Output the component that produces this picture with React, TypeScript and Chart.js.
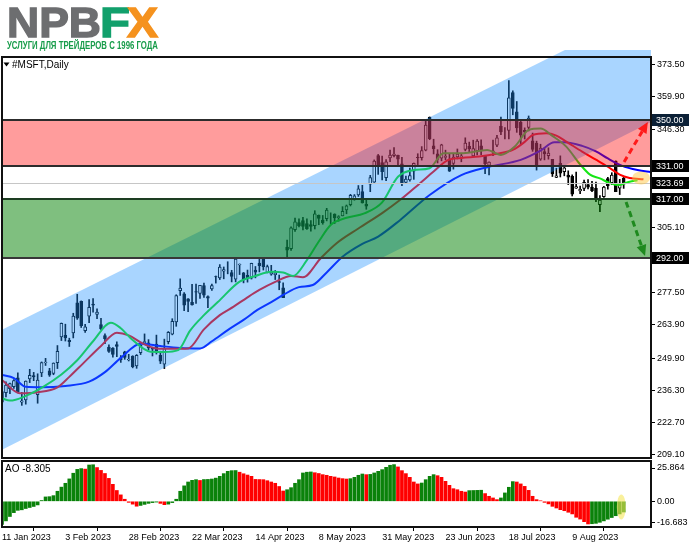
import React, { useEffect, useRef } from 'react';
import { Chart, registerables } from 'chart.js';
Chart.register(...registerables);

// ---------------- DATA ----------------
const xLabelIdx = [0, 16, 32, 48, 64, 80, 96, 112, 128, 144];
const xLabels = ['11 Jan 2023', '3 Feb 2023', '28 Feb 2023', '22 Mar 2023', '14 Apr 2023', '8 May 2023', '31 May 2023', '23 Jun 2023', '18 Jul 2023', '9 Aug 2023'];

const opens = [
  231.3, 235.3, 237.0, 237.9, 241.6, 231.3, 232.3, 241.1, 242.5, 234.5,
  243.7, 248.0, 244.5, 243.5, 248.0, 258.8, 259.5, 257.4, 260.5, 273.2,
  273.8, 261.5, 267.6, 272.7, 268.3, 264.0, 259.4, 254.5, 254.1, 255.6,
  250.0, 252.5, 249.1, 250.8, 246.6, 252.2, 256.4, 256.3, 254.0, 255.8,
  251.1, 247.4, 256.8, 260.0, 265.2, 278.3, 277.0, 274.9, 273.4, 277.9,
  277.2, 280.5, 275.8, 279.0, 284.2, 283.7, 286.5, 287.2, 285.9, 283.2,
  289.2, 285.8, 284.8, 283.6, 287.0, 289.9, 291.6, 286.0, 285.3, 285.0,
  282.1, 279.5, 296.7, 296.0, 304.0, 307.0, 307.8, 306.6, 306.2, 305.7,
  310.1, 308.0, 308.6, 310.1, 310.6, 309.1, 309.8, 312.3, 314.5, 316.7,
  318.6, 320.0, 314.7, 323.2, 324.0, 335.2, 332.3, 325.9, 334.2, 335.2,
  335.3, 331.7, 323.9, 325.0, 328.6, 334.5, 334.3, 337.5, 351.3, 339.3,
  336.0, 334.1, 334.4, 333.7, 331.9, 334.7, 334.7, 337.8, 339.2, 335.1,
  337.3, 339.3, 335.0, 331.1, 336.6, 339.6, 347.6, 345.7, 345.8, 361.8,
  353.6, 349.2, 345.9, 347.1, 341.4, 340.5, 333.7, 336.9, 335.2, 333.6,
  326.0, 331.9, 328.4, 327.0, 326.5, 321.5, 320.3, 321.4, 323.0, 322.0,
  321.4, 314.5, 317.9, 325.5, 323.8, 332.9, 321.5, 325.7,
];
const highs = [
  235.9, 239.9, 239.4, 240.9, 243.7, 235.5, 240.3, 245.2, 243.9, 243.3,
  248.3, 249.8, 245.6, 247.9, 255.2, 264.7, 264.2, 258.3, 268.8, 276.8,
  274.0, 264.1, 274.6, 275.0, 270.7, 266.7, 260.1, 255.5, 254.3, 256.8,
  251.0, 252.8, 251.5, 250.9, 251.4, 255.6, 260.1, 257.7, 254.5, 259.6,
  252.8, 257.9, 261.1, 266.5, 276.6, 283.3, 277.5, 275.0, 281.0, 281.1,
  280.6, 281.5, 276.1, 281.1, 284.5, 289.3, 288.3, 290.5, 286.9, 292.1,
  289.6, 286.0, 287.0, 289.9, 288.5, 291.6, 292.0, 289.1, 289.0, 286.8,
  284.9, 281.6, 299.6, 305.2, 308.9, 308.6, 309.2, 308.6, 307.8, 312.0,
  310.2, 310.0, 313.0, 311.1, 310.7, 309.9, 313.7, 314.4, 318.9, 318.8,
  322.6, 322.7, 316.5, 326.9, 333.4, 335.7, 335.0, 333.5, 337.5, 338.6,
  335.4, 334.5, 326.6, 330.0, 332.1, 336.0, 339.0, 349.8, 351.5, 342.1,
  337.7, 340.0, 337.5, 336.1, 336.2, 338.0, 336.1, 342.7, 340.9, 341.7,
  342.0, 341.8, 335.3, 332.6, 341.7, 343.7, 351.4, 347.0, 366.8, 362.5,
  358.0, 350.3, 346.9, 351.9, 344.7, 341.3, 340.0, 338.5, 338.5, 333.6,
  329.9, 335.1, 330.8, 328.8, 327.1, 328.3, 322.4, 324.9, 325.1, 324.4,
  324.1, 318.4, 322.3, 326.1, 328.0, 333.0, 325.2, 326.5,
];
const lows = [
  229.3, 233.6, 234.9, 237.1, 235.5, 230.0, 230.5, 239.6, 240.4, 230.9,
  242.1, 246.8, 242.2, 242.9, 245.5, 257.3, 257.1, 254.8, 258.4, 266.2,
  262.8, 260.7, 264.8, 269.3, 266.5, 261.9, 256.0, 252.3, 250.3, 250.5,
  248.1, 249.4, 248.7, 245.8, 245.6, 251.4, 255.9, 253.4, 250.8, 251.6,
  247.6, 245.5, 255.9, 259.7, 263.3, 276.3, 269.9, 269.5, 272.2, 272.9,
  275.1, 275.5, 271.1, 278.4, 281.5, 283.0, 283.3, 285.4, 282.0, 282.0,
  285.1, 281.6, 281.9, 283.2, 283.7, 286.2, 287.0, 285.8, 284.8, 283.0,
  278.7, 275.4, 292.6, 295.3, 303.3, 305.2, 303.9, 304.1, 303.4, 304.3,
  306.1, 306.3, 307.7, 306.3, 306.6, 307.6, 309.8, 310.7, 314.0, 316.4,
  318.0, 315.2, 312.6, 320.0, 323.9, 327.3, 325.0, 324.7, 332.6, 334.7,
  330.5, 322.5, 323.4, 324.4, 325.2, 331.4, 333.3, 337.2, 341.9, 335.9,
  332.1, 333.0, 333.5, 328.5, 329.5, 333.8, 332.6, 337.2, 336.6, 334.7,
  335.5, 335.6, 327.6, 327.1, 335.2, 339.0, 344.0, 342.2, 342.2, 352.4,
  345.0, 339.8, 342.2, 345.6, 337.0, 329.1, 333.2, 333.4, 333.7, 326.4,
  325.9, 326.2, 326.7, 323.0, 318.2, 321.4, 319.2, 320.4, 321.2, 320.0,
  315.8, 311.6, 317.6, 321.1, 323.0, 320.0, 318.8, 321.4,
];
const closes = [
  235.8, 238.5, 239.2, 240.4, 235.8, 231.9, 240.2, 242.6, 242.0, 240.6,
  248.0, 248.2, 242.7, 247.8, 252.8, 264.6, 258.4, 256.8, 267.6, 266.7,
  263.6, 263.1, 271.3, 272.2, 269.3, 262.2, 258.1, 252.7, 251.5, 254.8,
  249.2, 250.2, 249.4, 246.3, 251.1, 255.3, 256.9, 254.2, 253.7, 252.3,
  248.6, 253.9, 260.8, 265.4, 276.2, 279.4, 272.2, 273.8, 272.3, 277.7,
  280.6, 276.4, 275.2, 280.5, 284.1, 288.3, 287.2, 287.2, 284.3, 291.6,
  289.4, 282.8, 283.5, 289.8, 286.1, 288.8, 288.4, 288.5, 286.1, 285.8,
  281.8, 275.4, 295.4, 304.8, 307.3, 305.6, 305.4, 304.4, 305.4, 310.7,
  308.7, 307.0, 312.3, 310.1, 309.0, 309.5, 311.7, 314.0, 318.5, 318.3,
  321.2, 315.3, 313.9, 325.9, 332.9, 331.2, 328.4, 332.6, 335.4, 335.9,
  333.7, 323.4, 325.3, 326.8, 331.9, 334.3, 337.3, 348.1, 342.3, 338.1,
  333.6, 339.7, 335.0, 328.6, 334.6, 335.9, 335.1, 340.5, 338.0, 338.2,
  341.3, 337.2, 331.8, 332.5, 337.2, 342.7, 345.2, 345.7, 359.5, 355.1,
  346.9, 343.8, 345.1, 351.0, 337.8, 330.7, 338.4, 335.9, 336.3, 327.5,
  326.7, 327.8, 330.1, 326.1, 319.0, 322.2, 321.0, 324.0, 321.9, 320.4,
  316.9, 316.5, 321.9, 322.5, 327.0, 320.0, 323.0, 323.69,
];

const aoValues = [
  -18.0, -15.2, -11.8, -8.8, -7.0, -6.6, -5.6, -4.8, -4.0, -2.8,
  0.6, 3.4, 3.6, 4.4, 7.8, 11.0, 14.0, 17.4, 21.8, 24.8,
  25.4, 25.0, 28.2, 28.4, 26.2, 24.0, 21.6, 17.8, 13.2, 8.4,
  5.0, 1.6, -0.8, -2.2, -3.8, -3.2, -2.4, -1.6, -1.0, -0.6,
  -1.6, -2.6, -2.2, -1.0, 1.6, 7.8, 12.0, 15.0, 16.3, 16.8,
  16.2, 16.9, 17.0, 17.3, 18.0, 19.4, 21.5, 23.3, 23.8, 23.9,
  22.6, 21.4, 20.4, 19.4, 17.0, 16.9, 16.8, 16.0, 15.0, 14.0,
  11.5, 8.0, 9.0, 10.6, 14.0, 16.8, 22.0, 22.6, 22.8, 22.2,
  21.6, 20.7, 20.2, 19.4, 18.9, 18.1, 17.6, 17.3, 17.6, 18.6,
  20.2, 21.2, 20.7, 20.9, 22.0, 23.3, 24.6, 26.4, 28.0, 28.5,
  26.7, 23.8, 21.5, 18.6, 15.0, 13.5, 14.2, 16.8, 19.4, 20.7,
  19.9, 18.6, 15.5, 12.4, 9.8, 9.0, 7.8, 7.2, 8.3, 8.4,
  8.5, 8.6, 6.0, 3.9, 2.6, 1.3, 2.6, 6.5, 10.9, 15.3,
  15.0, 13.5, 11.6, 8.5, 3.9, 1.3, 0.4, -0.8, -2.0, -3.9,
  -5.2, -6.5, -7.3, -8.5, -9.8, -12.4, -13.8, -15.8, -17.6, -17.4,
  -17.1, -16.3, -15.2, -13.9, -12.6, -11.2, -9.8, -8.305,
];

// Alligator lines (bar index, price)
const jawIdx = [0, 3, 6, 10, 16, 22, 26, 30, 35, 40, 45, 50, 53, 57, 61, 64.5, 68, 71, 75, 78.5, 82, 86, 91, 95, 100.5, 108, 116, 123, 131, 136, 139.5, 142, 146.5, 150, 153, 156.5, 160.5, 164];
const jawVal = [242.8, 241.5, 237.8, 237.6, 238.2, 240.0, 244.0, 250.0, 256.0, 255.0, 254.2, 254.0, 257.0, 261.7, 266.0, 270.2, 273.5, 276.5, 279.8, 280.7, 286.0, 292.6, 298.0, 301.1, 308.0, 318.6, 327.0, 330.5, 333.4, 337.3, 340.8, 340.8, 339.3, 337.0, 334.0, 331.0, 329.1, 328.2];
const teethIdx = [0, 4.5, 9, 14, 17, 20.5, 25, 29, 32, 35.5, 39, 43, 47, 51, 55, 58.5, 62, 65, 69, 73, 76, 80.5, 84.5, 90, 96, 100.5, 105.5, 109, 112.5, 116, 120.5, 125, 129, 132, 134, 137.5, 140, 142.5, 146.5, 150, 153, 156, 158.5, 162];
const teethVal = [240.7, 235.1, 235.5, 237.6, 242.0, 247.7, 255.0, 260.6, 259.5, 256.1, 254.0, 253.8, 254.0, 262.0, 268.0, 271.6, 275.5, 278.6, 282.0, 284.5, 284.0, 292.0, 298.3, 304.5, 311.0, 316.5, 323.5, 328.5, 333.2, 334.2, 334.8, 336.0, 337.6, 341.0, 343.9, 344.6, 343.6, 341.1, 336.9, 333.5, 330.5, 327.2, 325.8, 325.2];
const lipsIdx = [0, 2, 6, 10.5, 15, 19, 23, 27.5, 30, 33, 37.5, 41, 44.5, 47.5, 51, 54.5, 60, 64, 68, 71, 73.5, 77, 80, 83, 87, 91.5, 96, 100, 104, 108, 111.5, 116.5, 122.5, 126, 129.5, 133, 136, 139, 142.5, 146, 148.5, 151, 153.5, 155.5, 158.5, 160.5];
const lipsVal = [233.0, 232.0, 234.0, 237.9, 243.0, 249.0, 257.0, 264.8, 262.5, 257.5, 252.6, 252.5, 253.3, 261.5, 268.0, 273.5, 282.1, 284.5, 286.3, 286.0, 284.5, 291.2, 299.0, 306.0, 309.0, 310.9, 315.5, 326.3, 329.1, 329.9, 336.2, 336.2, 337.6, 335.5, 339.0, 346.0, 346.6, 343.5, 339.0, 331.5, 327.2, 325.6, 323.6, 322.8, 324.2, 324.8];

const priceTicks = [373.5, 359.9, 346.3, 305.1, 277.5, 263.9, 249.9, 236.3, 222.7, 209.1];
const levelValues = [350.0, 331.0, 323.69, 317.0, 292.0];
const redZone = [331.0, 350.0];
const greenZone = [292.0, 317.0];
const lastPrice = 323.69;
const aoTicks = [25.864, 0, -16.683];
const aoLast = -8.305;

// channel edges (bar index, price)
const channelIdx = [0, 164];
const channelLower = [211.3, 349.4];
const channelUpper = [261.8, 397.8];

// forecast arrows (bar index, price)
const upArrow = [157.1, 332.5, 163.1, 349.4];
const downArrow = [157.6, 315.7, 162.4, 292.9];
const markMain = [161.4, 325.8];
const markAO = [156.4, -4.4];

// ---------------- SCALES ----------------
const X_MIN = 0;
const X_MAX = 163.9;
const Y_MIN = 207.83;
const Y_MAX = 376.74;
const AO_MIN = -19.95;
const AO_MAX = 31.3;
const FONT = "'Liberation Sans', Arial, sans-serif";

function drawArrow(ctx: CanvasRenderingContext2D, x1: number, y1: number, x2: number, y2: number, color: string) {
  const ang = Math.atan2(y2 - y1, x2 - x1);
  const head = 11, hw = 5;
  const bx = x2 - Math.cos(ang) * head, by = y2 - Math.sin(ang) * head;
  ctx.save();
  ctx.strokeStyle = color;
  ctx.lineWidth = 3;
  ctx.setLineDash([6, 4]);
  ctx.beginPath();
  ctx.moveTo(x1, y1);
  ctx.lineTo(bx, by);
  ctx.stroke();
  ctx.setLineDash([]);
  ctx.fillStyle = color;
  ctx.beginPath();
  ctx.moveTo(x2, y2);
  ctx.lineTo(bx + Math.sin(ang) * hw, by - Math.cos(ang) * hw);
  ctx.lineTo(bx - Math.sin(ang) * hw, by + Math.cos(ang) * hw);
  ctx.closePath();
  ctx.fill();
  ctx.restore();
}

const mainOverlay = {
  id: 'mainOverlay',
  afterDatasetsDraw(chart: any) {
    const { ctx, chartArea: a, scales } = chart;
    const px = (i: number) => scales.x.getPixelForValue(i);
    const py = (v: number) => scales.y.getPixelForValue(v);
    // channel
    ctx.save();
    ctx.beginPath();
    ctx.rect(a.left, 50, a.right - a.left, a.bottom - 50);
    ctx.clip();
    ctx.fillStyle = 'rgba(30,144,255,0.38)';
    ctx.beginPath();
    ctx.moveTo(px(channelIdx[0]), py(channelLower[0]));
    ctx.lineTo(px(channelIdx[1]), py(channelLower[1]));
    ctx.lineTo(px(channelIdx[1]), py(channelUpper[1]));
    ctx.lineTo(px(channelIdx[0]), py(channelUpper[0]));
    ctx.closePath();
    ctx.fill();
    ctx.restore();

    ctx.save();
    ctx.beginPath();
    ctx.rect(a.left, a.top, a.right - a.left, a.bottom - a.top);
    ctx.clip();
    // zones
    ctx.fillStyle = 'rgba(255,0,0,0.39)';
    ctx.fillRect(a.left, py(redZone[1]), a.right - a.left, py(redZone[0]) - py(redZone[1]));
    ctx.fillStyle = 'rgba(0,128,0,0.5)';
    ctx.fillRect(a.left, py(greenZone[1]), a.right - a.left, py(greenZone[0]) - py(greenZone[1]));
    // last price line
    ctx.strokeStyle = '#c6c6c6';
    ctx.lineWidth = 1;
    const yl = Math.round(py(lastPrice)) + 0.5;
    ctx.beginPath();
    ctx.moveTo(a.left, yl);
    ctx.lineTo(a.right, yl);
    ctx.stroke();
    // level lines
    const lineCols: Record<string, string> = { '350': '#2c2c2c', '331': '#2c2c2c', '317': '#1d3d22', '292': '#383838' };
    [350, 331, 317, 292].forEach((v) => {
      ctx.strokeStyle = lineCols[String(v)];
      ctx.lineWidth = 2;
      const y = Math.round(py(v));
      ctx.beginPath();
      ctx.moveTo(a.left, y);
      ctx.lineTo(a.right, y);
      ctx.stroke();
    });
    // highlight
    ctx.fillStyle = 'rgba(255,200,70,0.5)';
    ctx.beginPath();
    ctx.ellipse(px(markMain[0]), py(markMain[1]), 9, 6.5, 0, 0, Math.PI * 2);
    ctx.fill();
    // arrows
    drawArrow(ctx, px(upArrow[0]), py(upArrow[1]), px(upArrow[2]), py(upArrow[3]), '#ff1a1a');
    drawArrow(ctx, px(downArrow[0]), py(downArrow[1]), px(downArrow[2]), py(downArrow[3]), '#1f8a1f');
    ctx.restore();

    // border
    ctx.save();
    ctx.strokeStyle = '#111';
    ctx.lineWidth = 2;
    ctx.strokeRect(a.left, a.top, a.right - a.left, a.bottom - a.top);
    // title
    ctx.fillStyle = '#000';
    ctx.beginPath();
    ctx.moveTo(3.5, 62.5);
    ctx.lineTo(9.5, 62.5);
    ctx.lineTo(6.5, 66.5);
    ctx.closePath();
    ctx.fill();
    ctx.font = `10px ${FONT}`;
    ctx.textBaseline = 'middle';
    ctx.textAlign = 'left';
    ctx.fillText('#MSFT,Daily', 12, 65.5);
    ctx.restore();
  },
  afterDraw(chart: any) {
    const { ctx, scales } = chart;
    ctx.save();
    ctx.font = `9px ${FONT}`;
    ctx.textBaseline = 'middle';
    ctx.textAlign = 'left';
    levelValues.forEach((v) => {
      const y = Math.round(scales.y.getPixelForValue(v));
      ctx.fillStyle = v === 350 ? '#0b2036' : '#000';
      ctx.fillRect(652, y - 6, 37, 12);
      ctx.fillStyle = '#fff';
      ctx.fillText(v.toFixed(2), 656, y + 0.5);
    });
    ctx.restore();
  },
};

const aoOverlay = {
  id: 'aoOverlay',
  afterDatasetsDraw(chart: any) {
    const { ctx, chartArea: a, scales } = chart;
    ctx.save();
    ctx.fillStyle = 'rgba(245,230,90,0.6)';
    ctx.beginPath();
    ctx.ellipse(scales.x.getPixelForValue(markAO[0]), scales.y.getPixelForValue(markAO[1]), 4.5, 12.5, 0, 0, Math.PI * 2);
    ctx.fill();
    ctx.strokeStyle = '#111';
    ctx.lineWidth = 2;
    ctx.strokeRect(a.left, a.top, a.right - a.left, a.bottom - a.top);
    ctx.fillStyle = '#000';
    ctx.font = `10px ${FONT}`;
    ctx.textBaseline = 'middle';
    ctx.textAlign = 'left';
    ctx.fillText('AO ' + aoLast.toFixed(3), 5, 10.5);
    ctx.restore();
  },
};

function fitWidth(el: HTMLElement | null, target: number) {
  if (!el) return;
  el.style.transform = 'none';
  const w = el.getBoundingClientRect().width;
  if (w > 0) el.style.transform = `scaleX(${target / w})`;
}

const fitY = (s: any) => { s.width = 40; s.paddingTop = 0; s.paddingBottom = 0; };

export default function App() {
  const mainRef = useRef<HTMLCanvasElement>(null);
  const aoRef = useRef<HTMLCanvasElement>(null);
  const npbRef = useRef<HTMLSpanElement>(null);
  const fRef = useRef<HTMLSpanElement>(null);
  const xRef = useRef<HTMLSpanElement>(null);
  const subRef = useRef<HTMLSpanElement>(null);

  useEffect(() => {
    document.body.style.margin = '0';
    const fit = () => {
      fitWidth(npbRef.current, 94);
      fitWidth(fRef.current, 30);
      fitWidth(xRef.current, 31);
      fitWidth(subRef.current, 151);
    };
    fit();
    if ((document as any).fonts && (document as any).fonts.ready) (document as any).fonts.ready.then(fit);

    const bodyColors = closes.map((c, i) => (c >= opens[i] ? '#ffffff' : '#000000'));
    const aoColors = aoValues.map((v, i) => (i === 0 || v > aoValues[i - 1] ? '#0a820a' : '#ff0000'));

    const main = new Chart(mainRef.current as HTMLCanvasElement, {
      type: 'bar',
      data: {
        datasets: [
          { type: 'line', label: 'Lips', data: lipsIdx.map((x, k) => ({ x, y: lipsVal[k] })), borderColor: '#16e616', borderWidth: 2, pointRadius: 0, cubicInterpolationMode: 'monotone', order: 1 } as any,
          { type: 'line', label: 'Teeth', data: teethIdx.map((x, k) => ({ x, y: teethVal[k] })), borderColor: '#ff0000', borderWidth: 2, pointRadius: 0, cubicInterpolationMode: 'monotone', order: 1 } as any,
          { type: 'line', label: 'Jaw', data: jawIdx.map((x, k) => ({ x, y: jawVal[k] })), borderColor: '#0000ff', borderWidth: 2, pointRadius: 0, cubicInterpolationMode: 'monotone', order: 1 } as any,
          { type: 'bar', label: 'Body', data: opens.map((o, i) => ({ x: i, y: [o, closes[i]] })), backgroundColor: bodyColors, borderColor: '#000', borderWidth: 1, borderSkipped: false, barThickness: 3, grouped: false, order: 2 } as any,
          { type: 'bar', label: 'Wick', data: highs.map((h, i) => ({ x: i, y: [lows[i], h] })), backgroundColor: '#000', borderWidth: 0, barThickness: 1, grouped: false, order: 3 } as any,
        ],
      },
      options: {
        responsive: false,
        maintainAspectRatio: false,
        animation: false,
        events: [],
        layout: { padding: { left: 2, top: 57, right: 0, bottom: 1 }, autoPadding: false } as any,
        plugins: { legend: { display: false }, tooltip: { enabled: false } },
        scales: {
          x: { type: 'linear', min: X_MIN, max: X_MAX, offset: false, display: false },
          y: {
            type: 'linear',
            position: 'right',
            min: Y_MIN,
            max: Y_MAX,
            afterBuildTicks: (s: any) => { s.ticks = priceTicks.map((v) => ({ value: v })); },
            afterFit: fitY,
            ticks: { autoSkip: false, callback: (v: any) => Number(v).toFixed(2), font: { family: FONT, size: 9 }, color: '#000', padding: 2 },
            grid: { drawOnChartArea: false, drawTicks: true, tickLength: 4, color: '#000' },
            border: { display: true, color: '#000', width: 1 },
          } as any,
        },
      },
      plugins: [mainOverlay],
    });

    const ao = new Chart(aoRef.current as HTMLCanvasElement, {
      type: 'bar',
      data: {
        datasets: [
          { type: 'bar', label: 'AO', data: aoValues.map((v, i) => ({ x: i, y: v })), backgroundColor: aoColors, borderWidth: 0, barThickness: 3, grouped: false } as any,
        ],
      },
      options: {
        responsive: false,
        maintainAspectRatio: false,
        animation: false,
        events: [],
        layout: { padding: { left: 2, top: 2, right: 0, bottom: 0 }, autoPadding: false } as any,
        plugins: { legend: { display: false }, tooltip: { enabled: false } },
        scales: {
          x: {
            type: 'linear',
            min: X_MIN,
            max: X_MAX,
            offset: false,
            afterBuildTicks: (s: any) => { s.ticks = xLabelIdx.map((v) => ({ value: v })); },
            afterFit: (s: any) => { s.height = 22; s.paddingLeft = 0; s.paddingRight = 0; },
            ticks: {
              autoSkip: false,
              maxRotation: 0,
              align: 'start',
              padding: 1,
              font: { family: FONT, size: 9 },
              color: '#000',
              callback: (v: any) => { const k = xLabelIdx.indexOf(Number(v)); return k >= 0 ? xLabels[k] : ''; },
            },
            grid: { drawOnChartArea: false, drawTicks: true, tickLength: 4, color: '#000' },
            border: { display: false },
          } as any,
          y: {
            type: 'linear',
            position: 'right',
            min: AO_MIN,
            max: AO_MAX,
            afterBuildTicks: (s: any) => { s.ticks = aoTicks.map((v) => ({ value: v })); },
            afterFit: fitY,
            ticks: { autoSkip: false, callback: (v: any) => (Number(v) === 0 ? '0.00' : Number(v).toFixed(3)), font: { family: FONT, size: 9 }, color: '#000', padding: 2 },
            grid: { drawOnChartArea: false, drawTicks: true, tickLength: 4, color: '#000' },
            border: { display: true, color: '#000', width: 1 },
          } as any,
        },
      },
      plugins: [aoOverlay],
    });

    return () => {
      main.destroy();
      ao.destroy();
    };
  }, []);

  const logoBase: React.CSSProperties = {
    position: 'absolute',
    top: 1,
    fontFamily: FONT,
    fontWeight: 700,
    fontSize: 43,
    lineHeight: '43px',
    whiteSpace: 'nowrap',
    display: 'inline-block',
    transformOrigin: 'left top',
  };

  return (
    <div style={{ position: 'absolute', left: 0, top: 0, width: 691, height: 549, background: '#fff', overflow: 'hidden' }}>
      <canvas ref={mainRef} width={691} height={459} style={{ position: 'absolute', left: 0, top: 0 }} />
      <canvas ref={aoRef} width={691} height={90} style={{ position: 'absolute', left: 0, top: 459 }} />
      <span ref={npbRef} style={{ ...logoBase, left: 7, color: '#6d6e70', WebkitTextStroke: '1.4px #6d6e70' } as any}>NPB</span>
      <span ref={fRef} style={{ ...logoBase, left: 100, color: '#12a06c', WebkitTextStroke: '1.4px #12a06c' } as any}>F</span>
      <span ref={xRef} style={{ ...logoBase, left: 127, color: '#f5921e', WebkitTextStroke: '1.4px #f5921e' } as any}>X</span>
      <span
        ref={subRef}
        style={{
          position: 'absolute',
          left: 7,
          top: 41,
          fontFamily: FONT,
          fontWeight: 700,
          fontSize: 10,
          lineHeight: '10px',
          color: '#179c4a',
          whiteSpace: 'nowrap',
          display: 'inline-block',
          transformOrigin: 'left top',
        }}
      >
        УСЛУГИ ДЛЯ ТРЕЙДЕРОВ С 1996 ГОДА
      </span>
    </div>
  );
}
